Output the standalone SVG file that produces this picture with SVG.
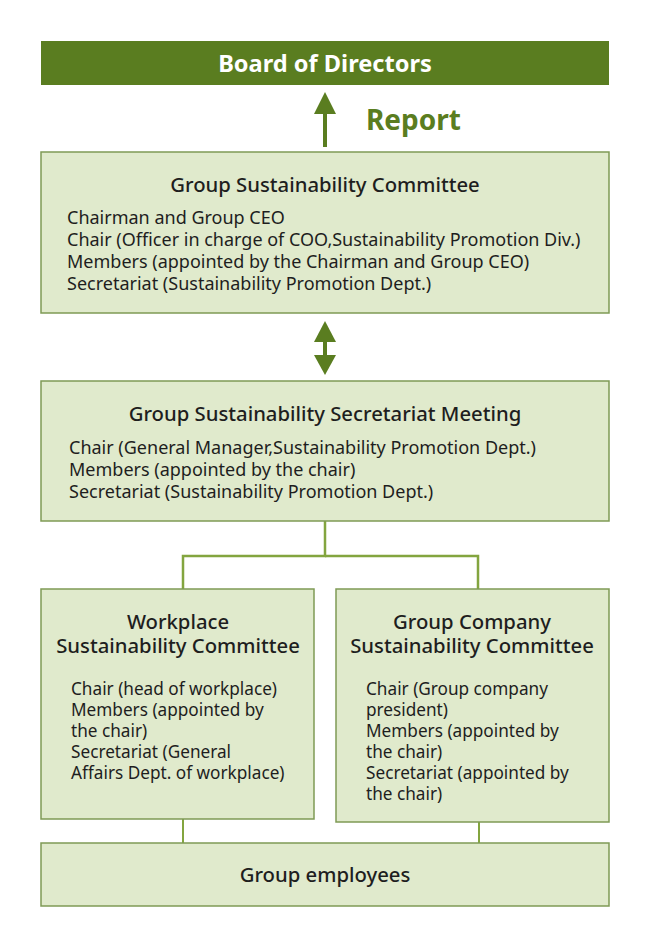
<svg xmlns="http://www.w3.org/2000/svg" width="650" height="948" viewBox="0 0 650 948">
<style>
.box{fill:#e0eacc;stroke:#7f9a55;stroke-width:1.5}
.t{font-family:"Noto Sans","Liberation Sans",sans-serif;fill:#1e1e1e}
.h{font-size:20.3px;text-anchor:middle;font-weight:500}
.b{font-size:18px}
.s{font-size:17.2px}
.c{stroke:#83a53f;stroke-width:2.5;fill:none}
.g{fill:#5a7d20}
</style>
<rect width="650" height="948" fill="#fff"/>
<g id="board">
<rect x="41" y="41" width="568" height="44" class="g"/>
<text x="325" y="72" class="t" style="font-size:23.6px;font-weight:bold;fill:#fff;text-anchor:middle">Board of Directors</text>
</g>
<g id="connectors">
<rect x="323" y="110" width="4" height="37" class="g"/>
<polygon points="325,92 314,114 336,114" class="g"/>
<text x="366" y="130" class="t" style="font-size:28px;font-weight:bold;fill:#5a7d20">Report</text>
<rect x="323" y="340" width="4" height="18" class="g"/>
<polygon points="325,321 314,342 336,342" class="g"/>
<polygon points="325,375 314,355 336,355" class="g"/>
<polyline points="325,521 325,556 183,556 183,589" class="c"/>
<polyline points="325,556 478,556 478,589" class="c"/>
<line x1="183" y1="819" x2="183" y2="843" class="c" style="stroke-width:2"/>
<line x1="479" y1="822" x2="479" y2="843" class="c" style="stroke-width:2"/>
</g>
<g id="gsc">
<rect x="41" y="152" width="568" height="161" class="box"/>
<text x="325" y="192" class="t h">Group Sustainability Committee</text>
<text class="t b" x="67" y="224">Chairman and Group CEO</text>
<text class="t b" x="67" y="246">Chair (Officer in charge of COO,Sustainability Promotion Div.)</text>
<text class="t b" x="67" y="268">Members (appointed by the Chairman and Group CEO)</text>
<text class="t b" x="67" y="290">Secretariat (Sustainability Promotion Dept.)</text>
</g>
<g id="gssm">
<rect x="41" y="381" width="568" height="140" class="box"/>
<text x="325" y="421" class="t h">Group Sustainability Secretariat Meeting</text>
<text class="t b" x="69" y="454">Chair (General Manager,Sustainability Promotion Dept.)</text>
<text class="t b" x="69" y="476">Members (appointed by the chair)</text>
<text class="t b" x="69" y="498">Secretariat (Sustainability Promotion Dept.)</text>
</g>
<g id="wsc">
<rect x="41" y="589" width="273" height="230" class="box"/>
<text x="178" y="629" class="t h">Workplace</text>
<text x="178" y="653" class="t h">Sustainability Committee</text>
<text class="t s" x="71" y="695">Chair (head of workplace)</text>
<text class="t s" x="71" y="716">Members (appointed by</text>
<text class="t s" x="71" y="737">the chair)</text>
<text class="t s" x="71" y="758">Secretariat (General</text>
<text class="t s" x="71" y="779">Affairs Dept. of workplace)</text>
</g>
<g id="gcsc">
<rect x="336" y="589" width="273" height="233" class="box"/>
<text x="472" y="629" class="t h">Group Company</text>
<text x="472" y="653" class="t h">Sustainability Committee</text>
<text class="t s" x="366" y="695">Chair (Group company</text>
<text class="t s" x="366" y="716">president)</text>
<text class="t s" x="366" y="737">Members (appointed by</text>
<text class="t s" x="366" y="758">the chair)</text>
<text class="t s" x="366" y="779">Secretariat (appointed by</text>
<text class="t s" x="366" y="800">the chair)</text>
</g>
<g id="employees">
<rect x="41" y="843" width="568" height="63" class="box"/>
<text x="325" y="882" class="t h">Group employees</text>
</g>
</svg>
